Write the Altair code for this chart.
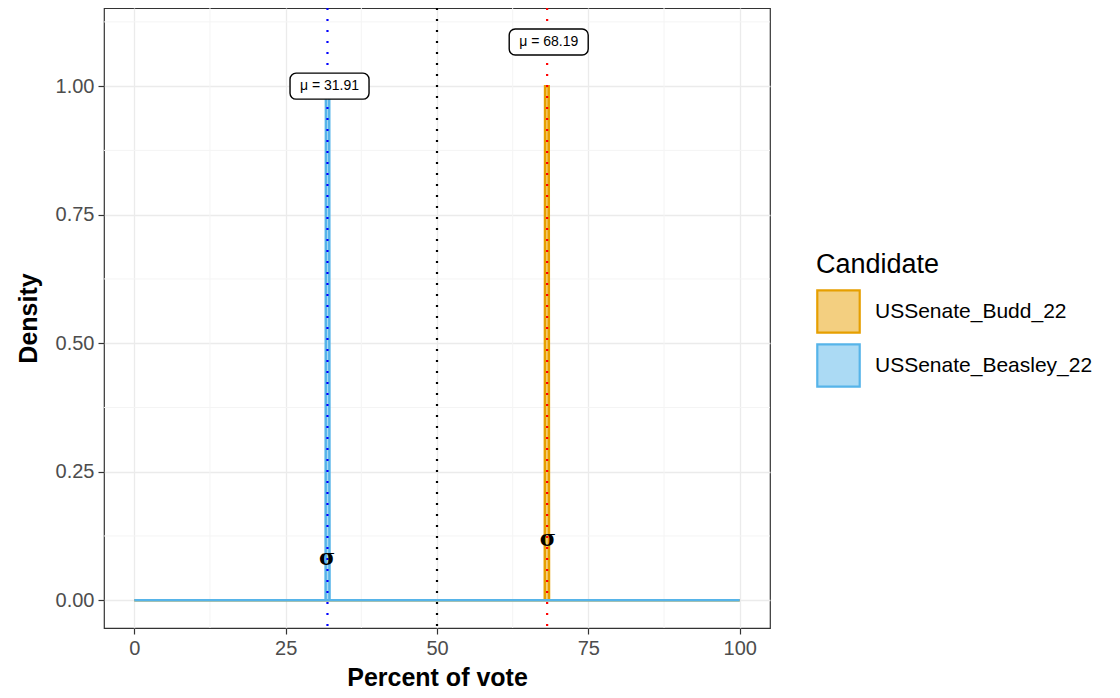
import altair as alt
import pandas as pd

# ---- data ----
candidates = ["USSenate_Budd_22", "USSenate_Beasley_22"]
line_colors = ["#E69F00", "#56B4E9"]
fill_colors = ["#F3CF80", "#ABDAF4"]

budd_x = [0, 67.8, 67.85, 68.45, 68.5, 100]
budd_density = [0, 0, 1.0, 1.0, 0, 0]
beasley_x = [0, 31.6, 31.65, 32.2, 32.25, 100]
beasley_density = [0, 0, 1.0, 1.0, 0, 0]

mean_values = [68.19, 31.91]
mean_line_colors = ["red", "blue"]
threshold = [50]

label_x = [68.45, 32.25]
label_y = [1.086, 1.0]
label_text = ["\u03bc = 68.19", "\u03bc = 31.91"]

sigma_x = [68.3, 31.85]
sigma_y = [0.12, 0.082]

x_ticks = [0, 25, 50, 75, 100]
x_minor = [12.5, 37.5, 62.5, 87.5]
y_ticks = [0, 0.25, 0.5, 0.75, 1.0]
y_minor = [0.125, 0.375, 0.625, 0.875, 1.125]

FONT = "Liberation Sans"

budd_df = pd.DataFrame({"x": budd_x, "density": budd_density, "Candidate": candidates[0]})
beasley_df = pd.DataFrame({"x": beasley_x, "density": beasley_density, "Candidate": candidates[1]})
means_df = pd.DataFrame({"x": mean_values, "c": mean_line_colors})
thr_df = pd.DataFrame({"x": threshold})
labels_df = pd.DataFrame({"x": label_x, "y": label_y, "t": label_text})
sigma_df = pd.DataFrame({"x": sigma_x, "y": sigma_y})
xminor_df = pd.DataFrame({"x": x_minor})
yminor_df = pd.DataFrame({"y": y_minor})

xscale = alt.Scale(domain=[-5, 105], nice=False, zero=False)
yscale = alt.Scale(domain=[-0.054, 1.152], nice=False, zero=False)
fscale = alt.Scale(domain=candidates, range=fill_colors)
sscale = alt.Scale(domain=candidates, range=line_colors)

xenc = alt.X("x:Q", scale=xscale, title="Percent of vote",
             axis=alt.Axis(values=x_ticks, format="d"))
yenc = alt.Y("density:Q", scale=yscale, title="Density",
             axis=alt.Axis(values=y_ticks, format=".2f"))

minor_x = alt.Chart(xminor_df).mark_rule(color="#F4F4F4", strokeWidth=1).encode(
    x=alt.X("x:Q", scale=xscale))
minor_y = alt.Chart(yminor_df).mark_rule(color="#F4F4F4", strokeWidth=1).encode(
    y=alt.Y("y:Q", scale=yscale))

def area(df):
    return alt.Chart(df).mark_area(strokeWidth=2.5, interpolate="linear").encode(
        x=xenc, y=yenc,
        fill=alt.Fill("Candidate:N", scale=fscale, sort=candidates,
                      legend=alt.Legend(title="Candidate")),
        stroke=alt.Stroke("Candidate:N", scale=sscale, sort=candidates,
                          legend=alt.Legend(title="Candidate")),
    )

budd_area = area(budd_df)
beasley_area = area(beasley_df)

mean_rules = alt.Chart(means_df).mark_rule(strokeWidth=2.2, strokeDash=[2, 9]).encode(
    x=alt.X("x:Q", scale=xscale),
    color=alt.Color("c:N", scale=None, legend=None))
thr_rule = alt.Chart(thr_df).mark_rule(strokeWidth=2.2, strokeDash=[2, 9], color="black").encode(
    x=alt.X("x:Q", scale=xscale))

sigma = alt.Chart(sigma_df).mark_text(text="\u03c3", fontSize=22, font="DejaVu Serif",
                                      fontWeight="bold", color="black").encode(
    x=alt.X("x:Q", scale=xscale), y=alt.Y("y:Q", scale=yscale))

boxes = alt.Chart(labels_df).mark_rect(width=79, height=26, cornerRadius=6, fill="white",
                                       stroke="black", strokeWidth=1.4).encode(
    x=alt.X("x:Q", scale=xscale), y=alt.Y("y:Q", scale=yscale))
texts = alt.Chart(labels_df).mark_text(fontSize=14, font=FONT, color="black").encode(
    x=alt.X("x:Q", scale=xscale), y=alt.Y("y:Q", scale=yscale), text="t:N")

chart = alt.layer(
    minor_x, minor_y, budd_area, beasley_area, mean_rules, thr_rule, sigma, boxes, texts
).properties(
    width=666, height=620, padding={"left": 8, "top": -2, "right": 5, "bottom": 5}
).configure_view(
    stroke="#333333", strokeWidth=1.2
).configure_axis(
    grid=True, gridColor="#EBEBEB", gridWidth=1.3, domain=False,
    tickColor="#333333", tickSize=6, tickWidth=1.2,
    labelFont=FONT, labelFontSize=20, labelColor="#4D4D4D", labelPadding=4,
    titleFont=FONT, titleFontSize=25, titleFontWeight="bold", titleColor="black",
).configure_axisX(
    titlePadding=7
).configure_axisY(
    titlePadding=14
).configure_legend(
    orient="none", legendX=712, legendY=244,
    titleFont=FONT, titleFontSize=27, titleFontWeight="normal", titleColor="black",
    titlePadding=10,
    labelFont=FONT, labelFontSize=21, labelColor="black", labelLimit=0,
    symbolType="square", symbolSize=1800, symbolStrokeWidth=2.2, symbolOpacity=1,
    rowPadding=1, labelOffset=14,
)

chart.save("out.html", embed_options={"renderer": "svg", "actions": False})
